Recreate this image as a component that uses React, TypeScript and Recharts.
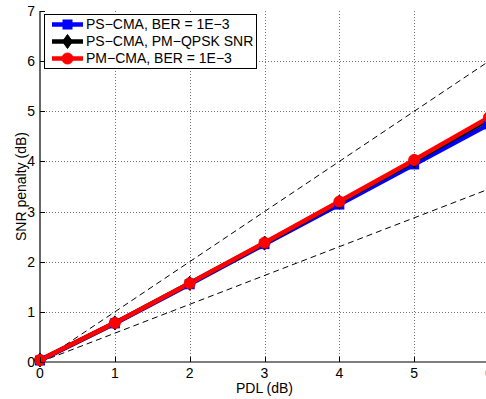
import React from 'react';
import { LineChart, Line, XAxis, YAxis, CartesianGrid } from 'recharts';

const pdl = [0, 1, 2, 3, 4, 5, 6];
const psCmaBer = [0.03, 0.77, 1.55, 2.35, 3.14, 3.94, 4.74];
const psCmaSnr = [0.04, 0.78, 1.57, 2.37, 3.19, 4.01, 4.84];
const pmCmaBer = [0.04, 0.78, 1.57, 2.38, 3.2, 4.03, 4.88];
const boundX = [0, 6];
const upperBound = [0, 6];
const lowerBound = [0, 3.45];
const xTicks = [0, 1, 2, 3, 4, 5, 6];
const yTicks = [0, 1, 2, 3, 4, 5, 6, 7];
const xDomain = [0, 6];
const yDomain = [0, 7];
const seriesNames = ['PS\u2212CMA, BER = 1E\u22123', 'PS\u2212CMA, PM\u2212QPSK SNR', 'PM\u2212CMA, BER = 1E\u22123'];
const seriesColors = ['#0000ff', '#000000', '#ff0000'];
const seriesKeys = ['blue', 'black', 'red'];

const data = pdl.map((x, i) => ({ x, blue: psCmaBer[i], black: psCmaSnr[i], red: pmCmaBer[i] }));
const upperData = boundX.map((x, i) => ({ x, v: upperBound[i] }));
const lowerData = boundX.map((x, i) => ({ x, v: lowerBound[i] }));

const FONT = '"Liberation Sans", Arial, Helvetica, sans-serif';

function Marker({ kind, cx, cy, color }: any) {
  if (cx == null || cy == null) return null;
  if (kind === 'blue') {
    return <rect x={cx - 4.5} y={cy - 4.5} width={9} height={9} fill={color} stroke={color} />;
  }
  if (kind === 'black') {
    return <polygon points={`${cx},${cy - 7} ${cx + 5},${cy} ${cx},${cy + 7} ${cx - 5},${cy}`} fill={color} stroke={color} />;
  }
  return <circle cx={cx} cy={cy} r={5.5} fill={color} stroke={color} />;
}

const snap = (v: number) => Math.round(v) + 0.5;

const BottomTick = (props: any) => {
  const { x, y, payload } = props;
  const sx = snap(x);
  return (
    <g>
      <path d={`M${sx},${y} L${sx},${y - 5}`} stroke="#000" strokeWidth={1} fill="none" />
      <text x={x} y={y + 16} textAnchor="middle" fontSize={14} fontFamily={FONT} fill="#000">{payload.value}</text>
    </g>
  );
};
const TopTick = (props: any) => {
  const { x, y } = props;
  const sx = snap(x);
  return <path d={`M${sx},${y} L${sx},${y + 5}`} stroke="#000" strokeWidth={1} fill="none" />;
};
const LeftTick = (props: any) => {
  const { x, y, payload } = props;
  const sy = snap(y);
  return (
    <g>
      <path d={`M${x},${sy} L${x + 5},${sy}`} stroke="#000" strokeWidth={1} fill="none" />
      <text x={x - 5} y={y + 5} textAnchor="end" fontSize={14} fontFamily={FONT} fill="#000">{payload.value}</text>
    </g>
  );
};
const RightTick = (props: any) => {
  const { x, y } = props;
  const sy = snap(y);
  return <path d={`M${x},${sy} L${x - 5},${sy}`} stroke="#000" strokeWidth={1} fill="none" />;
};

const vGen = (args: any) => {
  const o = args.offset;
  return xTicks.slice(1, -1).map((t) => snap(o.left + ((t - xDomain[0]) / (xDomain[1] - xDomain[0])) * o.width));
};
const hGen = (args: any) => {
  const o = args.offset;
  return yTicks.slice(1, -1).map((t) => snap(o.top + o.height - ((t - yDomain[0]) / (yDomain[1] - yDomain[0])) * o.height));
};

export default function App() {
  return (
    <div style={{ position: 'absolute', left: 0, top: 0, width: 486, height: 399, overflow: 'hidden', background: '#fff' }}>
      <LineChart width={500} height={399} data={data} margin={{ top: 11, right: 11, bottom: 0, left: 0 }}>
        <CartesianGrid stroke="#000" strokeOpacity={0.55} strokeWidth={1} strokeDasharray="1 2" fill="none"
          verticalCoordinatesGenerator={vGen} horizontalCoordinatesGenerator={hGen} />
        <XAxis dataKey="x" type="number" domain={xDomain} ticks={xTicks} height={37} tickSize={0} tickMargin={0}
          axisLine={{ stroke: '#000', strokeWidth: 1.2 }} tickLine={false} tick={<BottomTick />} interval={0}
          label={{
            value: 'PDL (dB)',
            content: (p: any) => {
              const vb = p.viewBox || { x: 40, y: 362, width: 449, height: 37 };
              return (
                <text x={vb.x + vb.width / 2} y={393} textAnchor="middle" fontSize={14} fontFamily={FONT} fill="#000">PDL (dB)</text>
              );
            },
          }} />
        <XAxis xAxisId="top" orientation="top" dataKey="x" type="number" domain={xDomain} ticks={xTicks} height={0}
          tickSize={0} tickMargin={0} axisLine={{ stroke: '#000', strokeWidth: 1.2 }} tickLine={false} tick={<TopTick />} interval={0} />
        <YAxis type="number" domain={yDomain} ticks={yTicks} width={40} tickSize={0} tickMargin={0} interval={0}
          axisLine={{ stroke: '#000', strokeWidth: 1.2 }} tickLine={false} tick={<LeftTick />}
          label={{
            value: 'SNR penalty (dB)',
            content: (p: any) => {
              const vb = p.viewBox || { x: 0, y: 11, width: 40, height: 351 };
              const cx = 26;
              const cy = vb.y + vb.height / 2;
              return (
                <text x={cx} y={cy} transform={`rotate(-90, ${cx}, ${cy})`} textAnchor="middle" fontSize={14} fontFamily={FONT} fill="#000">SNR penalty (dB)</text>
              );
            },
          }} />
        <YAxis yAxisId="right" orientation="right" type="number" domain={yDomain} ticks={yTicks} width={0} tickSize={0} tickMargin={0}
          interval={0} axisLine={{ stroke: '#000', strokeWidth: 1.2 }} tickLine={false} tick={<RightTick />} />
        <Line data={upperData} dataKey="v" stroke="#000" strokeWidth={1} strokeDasharray="6 4" dot={false} isAnimationActive={false} legendType="none" />
        <Line data={lowerData} dataKey="v" stroke="#000" strokeWidth={1} strokeDasharray="6 4" dot={false} isAnimationActive={false} legendType="none" />
        {seriesKeys.map((k, i) => (
          <Line key={k} dataKey={k} name={seriesNames[i]} stroke={seriesColors[i]} strokeWidth={4.5} isAnimationActive={false}
            dot={(p: any) => <Marker key={`${k}-${p.index}`} kind={k} cx={p.cx} cy={p.cy} color={seriesColors[i]} />} />
        ))}
      </LineChart>
      <div style={{ position: 'absolute', left: 44, top: 14, width: 211, height: 53, border: '1px solid #000', background: '#fff', fontFamily: FONT, fontSize: 14, color: '#000' }}>
        {seriesKeys.map((k, i) => (
          <div key={k} style={{ position: 'absolute', left: 0, top: 1 + i * 17, height: 17, width: 211 }}>
            <svg width={40} height={17} style={{ position: 'absolute', left: 6, top: 0 }}>
              <line x1={1} y1={8.5} x2={32} y2={8.5} stroke={seriesColors[i]} strokeWidth={4.5} />
              <Marker kind={k} cx={16.5} cy={8.5} color={seriesColors[i]} />
            </svg>
            <span style={{ position: 'absolute', left: 41, top: 0, lineHeight: '17px', whiteSpace: 'nowrap' }}>{seriesNames[i]}</span>
          </div>
        ))}
      </div>
    </div>
  );
}
